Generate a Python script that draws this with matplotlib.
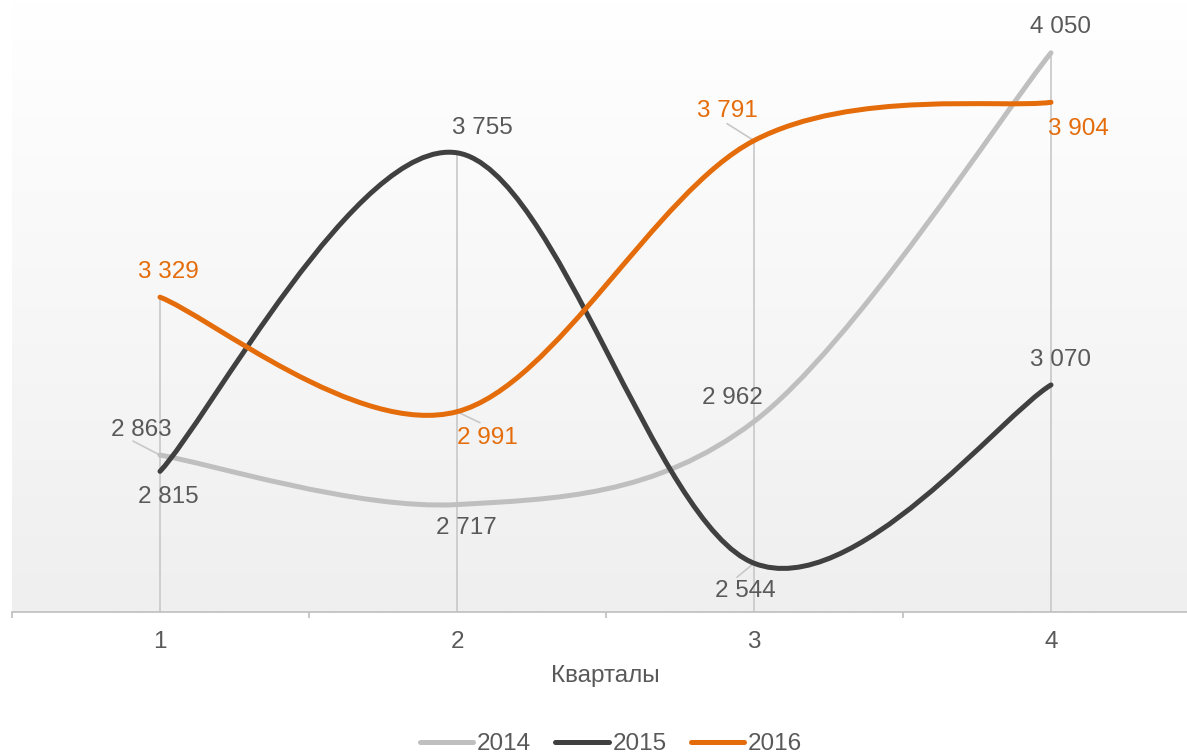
import numpy as np
import matplotlib
matplotlib.use("Agg")
import matplotlib.pyplot as plt
from matplotlib.path import Path
from matplotlib.patches import PathPatch
from matplotlib.lines import Line2D
from matplotlib.colors import LinearSegmentedColormap

plt.rcParams['font.family'] = ['Liberation Sans', 'DejaVu Sans']

# Data
quarters = [1, 2, 3, 4]
sales_2014 = [2863, 2717, 2962, 4050]
sales_2015 = [2815, 3755, 2544, 3070]
sales_2016 = [3329, 2991, 3791, 3904]
years = ['2014', '2015', '2016']

colors = {'2014': '#bfbfbf', '2015': '#404040', '2016': '#e46c0a'}
label_colors = {'2014': '#595959', '2015': '#595959', '2016': '#e46c0a'}
text_color = '#595959'
fs = 17.5

# label offsets in pixels (dx, dy) and optional leader line start (dx, dy)
offsets = {
    '2014': [(-19, 25, (-27, 14)), (9, -23, None), (-22, 24, None), (9, 26, None)],
    '2015': [(8, -26, None), (25, 25, None), (-9, -28, (-17, -14)), (9, 25, None)],
    '2016': [(8, 25, None), (30, -26, (23, -11)), (-27, 30, (-27, 17)), (27, -27, None)],
}


def smooth_path(x, y):
    # Excel-like smoothed line: Catmull-Rom converted to cubic Bezier
    pts = np.column_stack([x, y]).astype(float)
    n = len(pts)
    verts = [pts[0]]
    codes = [Path.MOVETO]
    for i in range(n - 1):
        p0 = pts[i - 1] if i > 0 else pts[i]
        p1 = pts[i]
        p2 = pts[i + 1]
        p3 = pts[i + 2] if i + 2 < n else pts[i + 1]
        c1 = p1 + (p2 - p0) / 6
        c2 = p2 - (p3 - p1) / 6
        verts += [c1, c2, p2]
        codes += [Path.CURVE4] * 3
    return Path(verts, codes)


fig = plt.figure(figsize=(11.87, 7.53), dpi=100)
ax = fig.add_axes([11.5 / 1187, 141 / 753, 1188 / 1187, 610 / 753])

ymin, ymax = 2400, 4200

# gradient background of plot area
cmap = LinearSegmentedColormap.from_list('bg', ['#ffffff', '#efefef'])
ax.imshow(np.linspace(0, 1, 256).reshape(-1, 1), cmap=cmap, aspect='auto',
          extent=[0.5, 4.5, ymin, ymax], zorder=0)

# drop lines
all_series = {'2014': sales_2014, '2015': sales_2015, '2016': sales_2016}
tops = np.max([sales_2014, sales_2015, sales_2016], axis=0)
ax.vlines(quarters, ymin, tops, color='#c8c8c8', lw=1.2, zorder=1)

handles = []
for yr in years:
    vals = all_series[yr]
    patch = PathPatch(smooth_path(quarters, vals), fill=False,
                      edgecolor=colors[yr], lw=3.6, capstyle='round',
                      joinstyle='round', zorder=3)
    ax.add_patch(patch)
    handles.append(Line2D([], [], color=colors[yr], lw=3.6,
                          solid_capstyle='round', label=yr))
    for q, v, (dx, dy, lead) in zip(quarters, vals, offsets[yr]):
        txt = f"{v:,}".replace(',', ' ')
        ax.annotate(txt, (q, v), xytext=(dx, dy), textcoords='offset pixels',
                    ha='center', va='center', fontsize=fs,
                    color=label_colors[yr], zorder=5)
        if lead is not None:
            ax.annotate('', (q, v), xytext=lead, textcoords='offset pixels',
                        arrowprops=dict(arrowstyle='-', color='#c8c8c8', lw=1.2,
                                        shrinkA=0, shrinkB=0), zorder=2)

ax.set_xlim(0.5, 4.5)
ax.set_ylim(ymin, ymax)
ax.set_yticks([])
for s in ['top', 'left', 'right']:
    ax.spines[s].set_visible(False)
ax.spines['bottom'].set_color('#bfbfbf')
ax.spines['bottom'].set_linewidth(1.2)

ax.set_xticks([0.5, 1.5, 2.5, 3.5, 4.5])
ax.set_xticklabels([])
ax.tick_params(axis='x', which='major', length=4.5, width=1.2,
               color='#bfbfbf', direction='out')
ax.set_xticks(quarters, minor=True)
ax.set_xticklabels([str(q) for q in quarters], minor=True)
ax.tick_params(axis='x', which='minor', length=0, pad=14,
               labelsize=fs, labelcolor=text_color)

fig.text(605.5 / 1187, 1 - 676 / 753, 'Кварталы', ha='center', va='center',
         fontsize=fs, color=text_color)

fig.legend(handles=handles, loc='center', bbox_to_anchor=(611 / 1187, 1 - 744 / 753),
           ncol=3, frameon=False, fontsize=fs, handlelength=2.2,
           handletextpad=0.15, columnspacing=1.0, labelcolor=text_color)

fig.savefig('out.png', dpi=100)
